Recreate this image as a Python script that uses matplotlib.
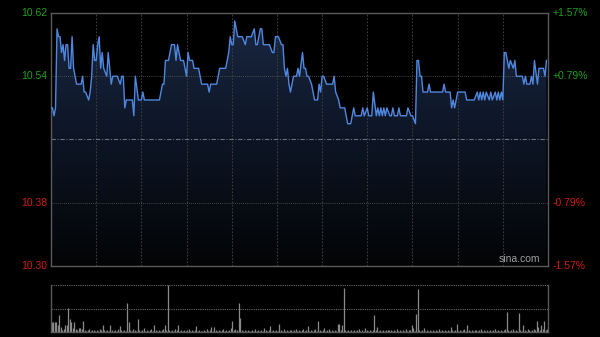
import numpy as np
import matplotlib
matplotlib.use("Agg")
import matplotlib.pyplot as plt
from matplotlib.colors import LinearSegmentedColormap

plt.rcParams['font.family'] = ['Liberation Sans', 'DejaVu Sans']

# price line (minute from open, price)
minutes = [0, 1, 2, 3, 4, 5, 6, 7, 8, 9, 10, 11, 12, 13, 14, 15, 16, 17, 20, 21,
           22, 23, 25, 26, 27, 28, 29, 30, 31, 32, 33, 34, 35, 37, 38, 39, 40, 41, 44, 46,
           47, 48, 49, 50, 54, 55, 56, 58, 60, 61, 62, 72, 74, 75, 76, 78, 80, 82, 83, 84,
           86, 88, 89, 90, 91, 92, 94, 95, 98, 100, 104, 105, 106, 110, 111, 112, 116, 118, 119, 120,
           121, 122, 124, 127, 129, 130, 133, 135, 136, 137, 139, 140, 141, 145, 147, 148, 149, 151, 153, 154,
           155, 156, 157, 158, 159, 161, 163, 164, 165, 167, 168, 169, 170, 171, 173, 174, 175, 177, 178, 179,
           180, 181, 183, 187, 188, 189, 191, 192, 195, 196, 197, 199, 201, 202, 206, 207, 208, 210, 211, 213,
           214, 216, 217, 218, 219, 220, 221, 222, 223, 225, 226, 227, 228, 230, 231, 232, 236, 237, 239, 240,
           242, 243, 244, 245, 246, 247, 250, 251, 252, 260, 261, 262, 265, 266, 267, 268, 270, 275, 276, 281,
           283, 284, 285, 286, 287, 288, 289, 291, 292, 293, 295, 296, 297, 298, 299, 300, 301, 302, 303, 304,
           305, 307, 308, 309, 313, 314, 315, 316, 318, 319, 320, 321, 323, 324, 327, 328, 329]
prices = [10.50, 10.50, 10.49, 10.50, 10.60, 10.59, 10.59, 10.57, 10.58, 10.56, 10.58, 10.58, 10.55, 10.55, 10.59, 10.55, 10.54, 10.53, 10.53, 10.54,
          10.52, 10.52, 10.51, 10.52, 10.54, 10.58, 10.56, 10.56, 10.58, 10.59, 10.55, 10.57, 10.55, 10.54, 10.57, 10.55, 10.53, 10.54, 10.54, 10.53,
          10.54, 10.54, 10.50, 10.51, 10.51, 10.49, 10.54, 10.51, 10.51, 10.52, 10.51, 10.51, 10.53, 10.53, 10.56, 10.56, 10.58, 10.58, 10.56, 10.58,
          10.56, 10.56, 10.55, 10.54, 10.57, 10.56, 10.56, 10.55, 10.55, 10.53, 10.53, 10.52, 10.53, 10.53, 10.54, 10.55, 10.55, 10.57, 10.59, 10.58,
          10.58, 10.61, 10.59, 10.59, 10.58, 10.59, 10.59, 10.60, 10.58, 10.58, 10.60, 10.60, 10.58, 10.58, 10.57, 10.57, 10.59, 10.59, 10.58, 10.58,
          10.55, 10.54, 10.55, 10.53, 10.52, 10.54, 10.54, 10.55, 10.54, 10.57, 10.55, 10.55, 10.54, 10.54, 10.53, 10.52, 10.51, 10.51, 10.53, 10.52,
          10.54, 10.54, 10.53, 10.53, 10.54, 10.52, 10.51, 10.50, 10.50, 10.49, 10.48, 10.48, 10.50, 10.49, 10.49, 10.50, 10.49, 10.50, 10.49, 10.49,
          10.52, 10.49, 10.50, 10.49, 10.50, 10.49, 10.50, 10.49, 10.50, 10.49, 10.49, 10.50, 10.49, 10.49, 10.50, 10.49, 10.49, 10.50, 10.49, 10.49,
          10.48, 10.56, 10.56, 10.54, 10.54, 10.52, 10.52, 10.53, 10.52, 10.52, 10.53, 10.52, 10.52, 10.50, 10.51, 10.50, 10.52, 10.52, 10.51, 10.51,
          10.52, 10.51, 10.52, 10.51, 10.52, 10.51, 10.52, 10.51, 10.52, 10.51, 10.52, 10.51, 10.52, 10.51, 10.52, 10.51, 10.57, 10.57, 10.56, 10.55,
          10.56, 10.55, 10.56, 10.54, 10.54, 10.53, 10.54, 10.53, 10.53, 10.54, 10.53, 10.56, 10.53, 10.55, 10.55, 10.54, 10.56]

# volume per minute (relative units)
volume = [10, 10, 10, 10, 7, 17, 5, 2, 3, 7,
          7, 24, 13, 10, 4, 10, 3, 2, 4, 4,
          3, 11, 2, 1, 2, 3, 1, 2, 2, 1,
          2, 1, 3, 2, 7, 2, 1, 2, 1, 7,
          2, 1, 2, 1, 3, 6, 2, 1, 2, 1,
          29, 10, 2, 1, 3, 2, 1, 13, 2, 1,
          2, 4, 1, 2, 1, 2, 3, 1, 7, 2,
          1, 2, 1, 2, 3, 7, 2, 47, 2, 1,
          2, 1, 3, 2, 7, 1, 2, 1, 2, 1,
          2, 3, 1, 2, 1, 2, 6, 1, 2, 1,
          1, 2, 1, 3, 1, 2, 5, 1, 5, 2,
          1, 2, 1, 2, 3, 1, 2, 1, 2, 4,
          11, 2, 3, 2, 29, 14, 2, 1, 2, 1,
          2, 1, 1, 2, 1, 3, 1, 2, 1, 2,
          1, 4, 2, 1, 2, 6, 1, 2, 1, 2,
          1, 8, 2, 1, 3, 1, 2, 1, 2, 2,
          1, 2, 3, 1, 2, 1, 2, 3, 1, 2,
          6, 1, 2, 1, 2, 3, 1, 11, 2, 1,
          2, 4, 1, 2, 3, 1, 2, 1, 2, 1,
          8, 8, 2, 7, 44, 2, 1, 2, 1, 2,
          1, 2, 1, 2, 3, 1, 2, 1, 4, 2,
          1, 2, 1, 2, 17, 2, 5, 1, 2, 1,
          2, 1, 2, 2, 2, 2, 1, 2, 1, 3,
          1, 2, 1, 2, 1, 3, 1, 2, 2, 7,
          4, 1, 18, 43, 2, 1, 2, 4, 1, 2,
          1, 2, 1, 2, 1, 2, 1, 3, 1, 2,
          1, 2, 1, 2, 1, 5, 2, 1, 2, 8,
          1, 2, 1, 2, 3, 1, 7, 2, 1, 2,
          1, 2, 2, 1, 2, 3, 1, 2, 1, 2,
          1, 2, 1, 2, 3, 1, 2, 1, 2, 1,
          2, 3, 20, 2, 1, 2, 3, 1, 2, 1,
          19, 2, 1, 7, 2, 1, 3, 2, 1, 2,
          3, 2, 11, 5, 2, 7, 3, 11, 2, 3]

prev_close = 10.46
left_ticks = [10.62, 10.54, 10.38, 10.30]
left_labels = ['10.62', '10.54', '10.38', '10.30']
right_labels = ['+1.57%', '+0.79%', '-0.79%', '-1.57%']

GREEN = '#1fa01f'
RED = '#d01c12'
LINE = '#4f88e0'
FRAME = '#5a5a5a'

fig = plt.figure(figsize=(6, 3.37), dpi=100)
fig.patch.set_facecolor('black')

ax = fig.add_axes([51 / 600, 71 / 337, 497 / 600, 253 / 337])
ax.set_facecolor('black')
ax.set_xlim(0, 330)
ax.set_ylim(10.30, 10.62)

# gradient fill under the line
poly = ax.fill_between(minutes, prices, 10.30, color='none', lw=0)
cmap = LinearSegmentedColormap.from_list('g', ['#030405', '#0d1525', '#1a2842'])
grad = np.linspace(0, 1, 256).reshape(-1, 1)
im = ax.imshow(grad, cmap=cmap, aspect='auto', origin='lower',
               extent=[0, 330, 10.30, 10.62], zorder=1)
im.set_clip_path(poly.get_paths()[0], transform=ax.transData)

for m in range(30, 330, 30):
    ax.axvline(m, color='#3c3c3c', lw=0.8, ls=(0, (1.5, 1.5)), zorder=2)
for p in [10.54, 10.38]:
    ax.axhline(p, color='#5c5c5c', lw=0.6, ls=(0, (1, 1.5)), zorder=2)
ax.axhline(prev_close, color='#667080', lw=0.8, ls=(0, (4, 1.5, 1, 1.5)), zorder=2)

ax.plot(minutes, prices, color=LINE, lw=1.0, zorder=3)

for s in ax.spines.values():
    s.set_color(FRAME)
    s.set_linewidth(1.0)
ax.set_xticks([])
ax.set_yticks([])

for i, p in enumerate(left_ticks):
    c = GREEN if p > prev_close else RED
    ax.text(-4 / 497 * 330, p, left_labels[i], color=c, fontsize=7.5,
            ha='right', va='center', clip_on=False)
    ax.text(330 + 5 / 497 * 330, p, right_labels[i], color=c, fontsize=7.5,
            ha='left', va='center', clip_on=False)

ax.text(325, 10.303, 'sina.com', color='#a0a0a0', fontsize=7.5,
        ha='right', va='bottom', zorder=4)

# volume panel
vx = fig.add_axes([51 / 600, 5 / 337, 497 / 600, 47 / 337])
vx.set_facecolor('black')
vx.set_xlim(0, 330)
vx.set_ylim(0, 47)
vx.vlines(np.arange(len(volume)) + 0.5, 0, volume, color='#8a8a8a', lw=0.9)
vx.axhline(47, color='#6a6a6a', lw=0.8, ls=(0, (1, 1)))
vx.axhline(23.5, color='#6a6a6a', lw=0.8, ls=(0, (1, 1)))
vx.spines['top'].set_visible(False)
for k in ['left', 'right', 'bottom']:
    vx.spines[k].set_color(FRAME)
    vx.spines[k].set_linewidth(1.0)
vx.set_xticks([])
vx.set_yticks([])

fig.savefig('out.png', dpi=100, facecolor='black')
